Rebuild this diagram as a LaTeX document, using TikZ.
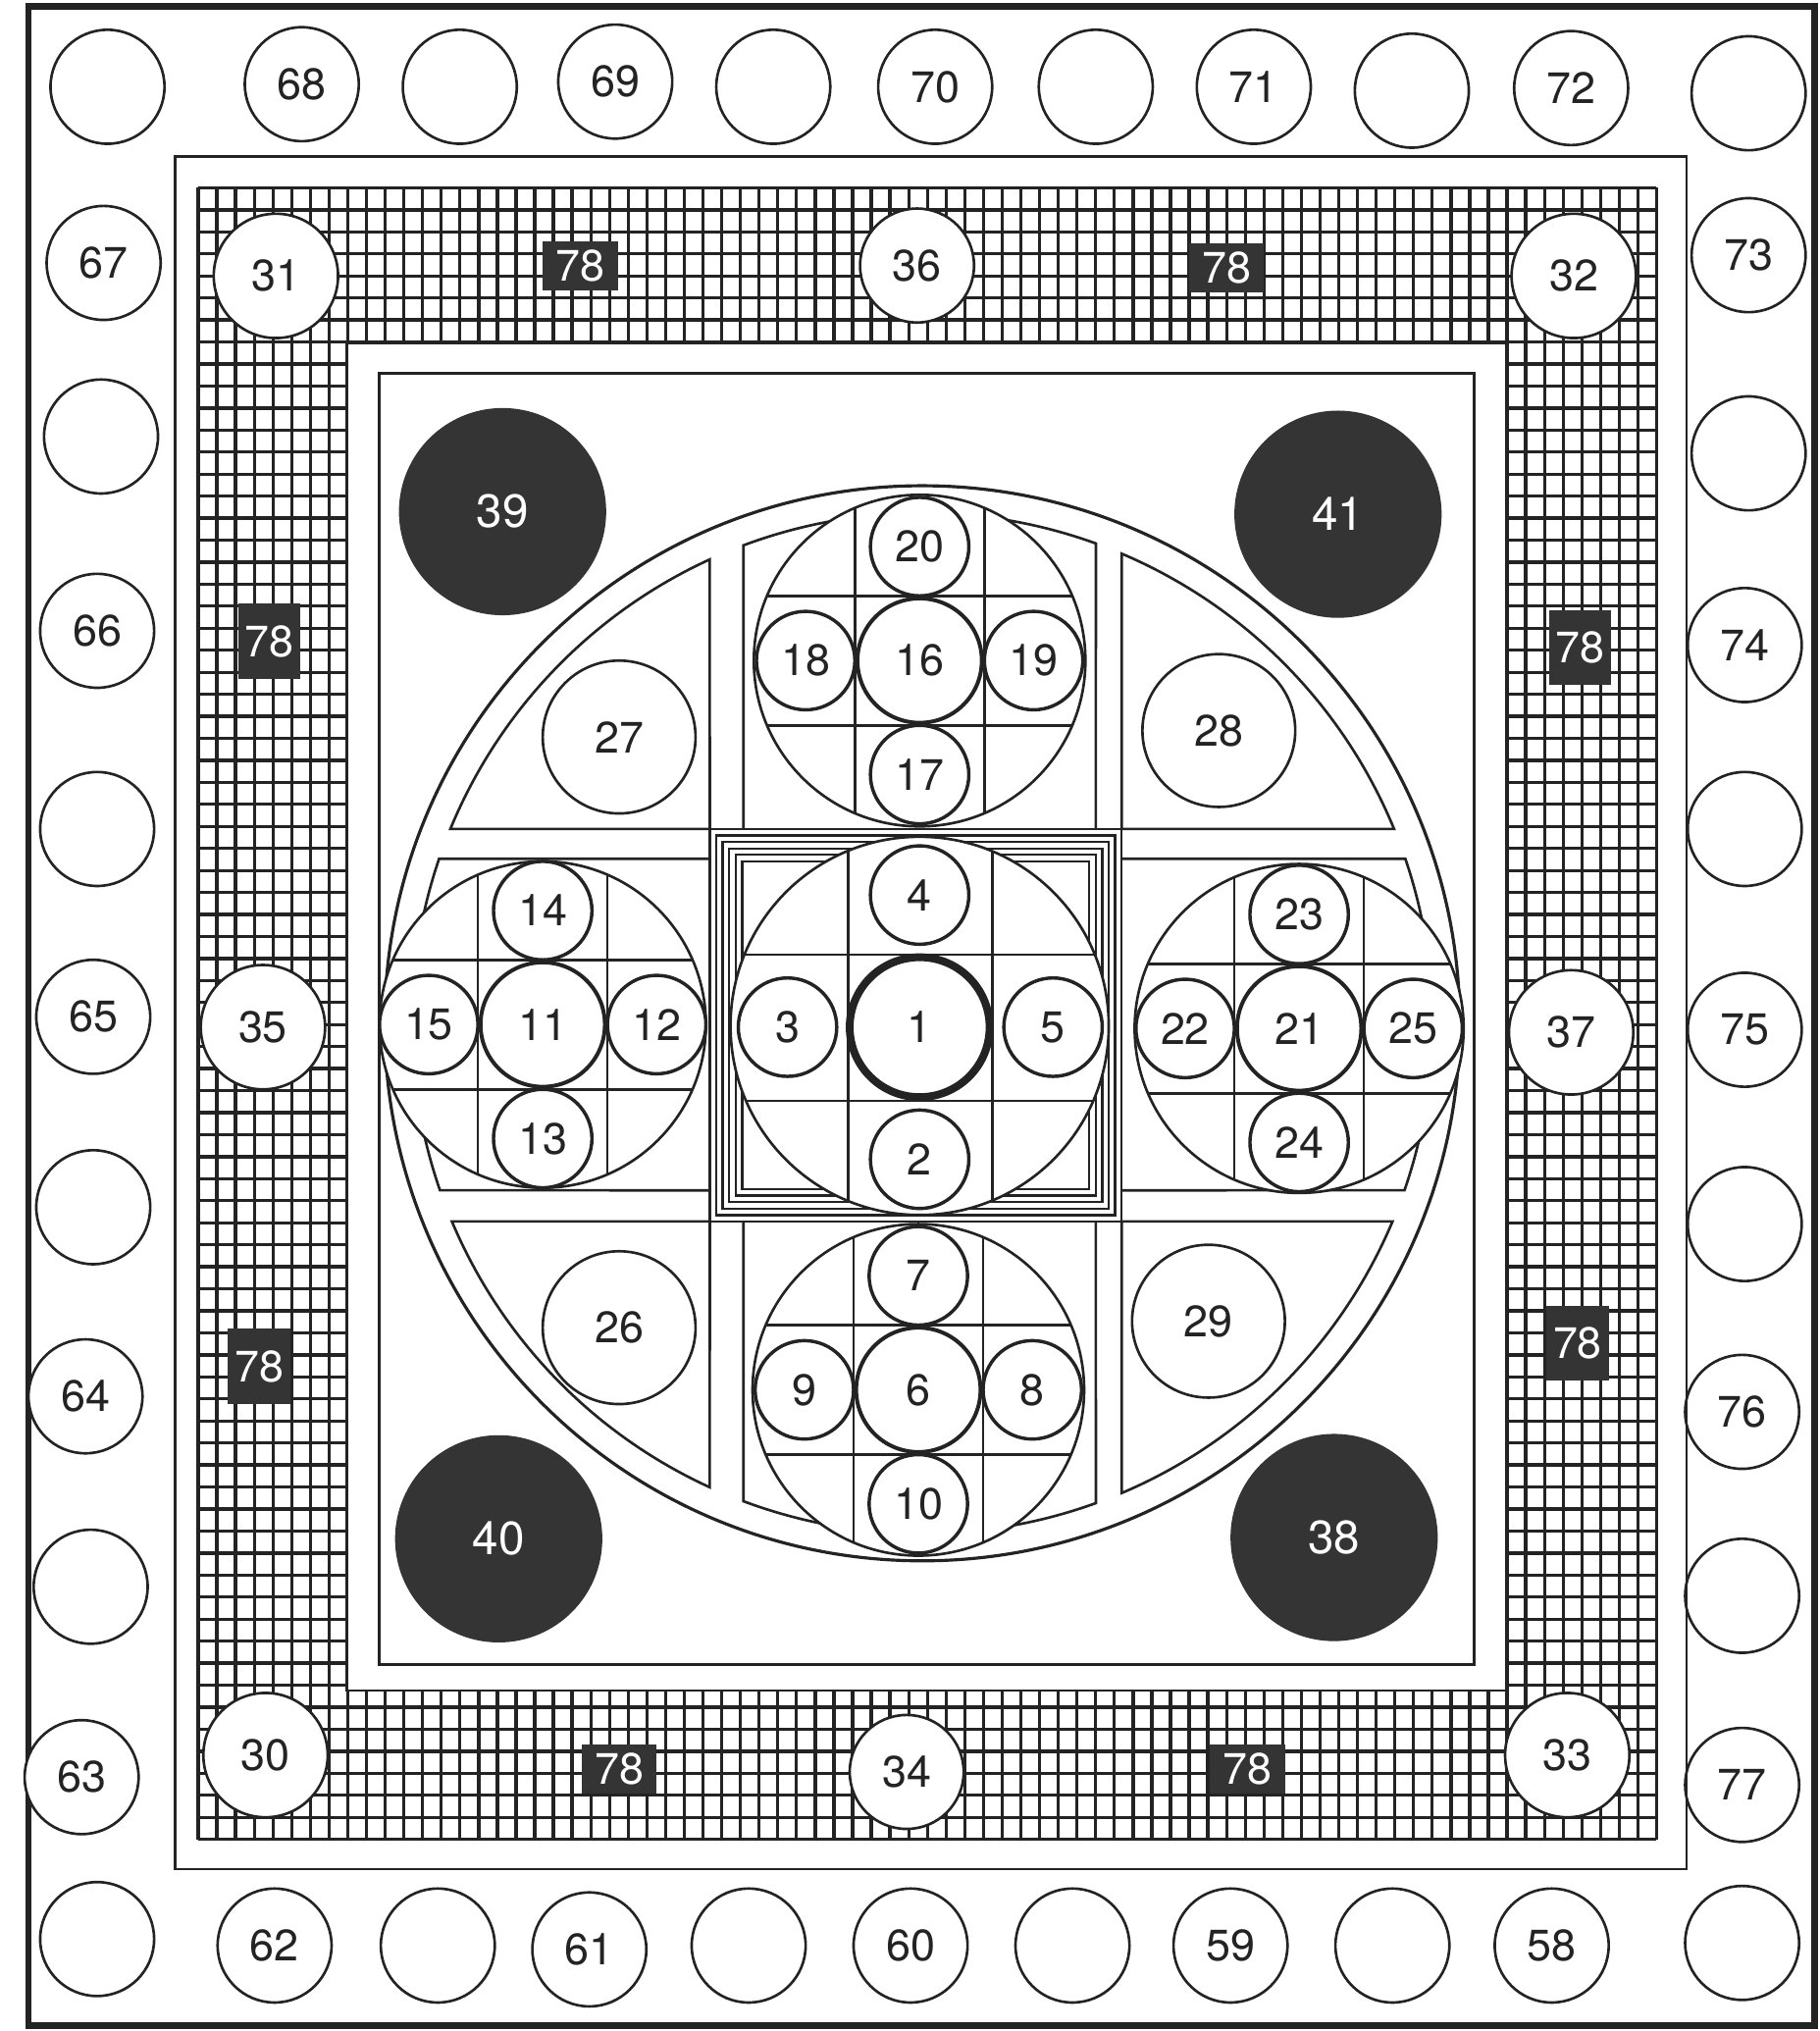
\documentclass[tikz,border=0pt]{standalone}
\usepackage{fontspec}
\setmainfont{TeX Gyre Heros}
\usepackage{tikz}
\usetikzlibrary{positioning}
\definecolor{ink}{RGB}{35,35,35}
\definecolor{shade}{RGB}{52,52,52}

\tikzset{
  wall/.style={draw=ink, line width=2pt},
  mesh/.style={draw=ink, line width=2.5pt},
  ring/.style={circle, draw=ink, fill=white, line width=2pt, minimum size=88pt, inner sep=0pt, text=ink, font=\fontsize{34}{36}\selectfont},
  bead/.style={ring, line width=2.6pt, minimum size=76pt},
  hub/.style={ring, line width=3pt, minimum size=96pt},
  seal/.style={circle, fill=shade, text=white, minimum size=160pt, inner sep=0pt, font=\fontsize{36}{38}\selectfont},
  plaque/.style 2 args={fill=shade, text=white, inner sep=0pt, minimum width=#1, minimum height=#2, font=\fontsize{34}{36}\selectfont},
}

\begin{document}
\begin{tikzpicture}[x=1pt, y=-1pt]
  \useasboundingbox (0,0) rectangle (1405,1568);
  \fill[white] (0,0) rectangle (1405,1568);
  % outer frame with its ring of circles
  \draw[ink, line width=5pt] (22,5) rectangle (1401,1564);
  \foreach \x/\y/\t [count=\i] in {
      83/67/{}, 233/65/68, 355/67/{}, 475/63/69, 597/67/{}, 722/67/70,
      846/67/{}, 968/67/71, 1090/70/{}, 1213/68/72, 1350/72/{},
      1350/197/73, 1350/350/{}, 1347/498/74, 1347/640/{}, 1347/795/75,
      1347/945/{}, 1345/1090/76, 1345/1232/{}, 1345/1378/77, 1345/1500/{},
      1198/1502/58, 1075/1502/{}, 950/1502/59, 828/1502/{}, 703/1502/60,
      578/1502/{}, 455/1505/61, 338/1502/{}, 212/1502/62, 75/1497/{},
      63/1372/63, 70/1225/{}, 66/1078/64, 72/932/{}, 72/785/65,
      75/640/{}, 75/487/66, 78/337/{}, 80/203/67}
    \node[ring] (o\i) at (\x,\y) {\t};

  % chequered band
  \draw[wall] (135,121) rectangle (1302,1443);
  \foreach \i in {0,...,78}
    \draw[mesh] ({153+\i*14.436},145) -- ({153+\i*14.436},1420);
  \foreach \j in {0,...,75}
    \draw[mesh] (153,{145+\j*17}) -- (1279,{145+\j*17});
  \filldraw[wall, fill=white] (268,265) rectangle (1163,1305);
  \draw[wall] (293,288) rectangle (1138,1285);

  \foreach \x/\y/\t/\d in {213/213/31/96, 708/205/36/88, 1215/213/32/96, 1213/797/37/96,
      1210/1355/33/96, 700/1368/34/88, 205/1355/30/96, 203/793/35/96}
    \node[ring, minimum size=\d pt] (b\t) at (\x,\y) {\t};
  \foreach \x/\y/\w/\h [count=\i] in {448/205/58/38, 947/207/58/38, 1220/500/48/58, 1218/1037/48/58,
      963/1366/58/38, 478/1366/58/38, 200/1055/48/58, 208/495/48/58}
    \node[plaque={\w pt}{\h pt}] (p\i) at (\x,\y) {78};

  % dark corner discs
  \node[seal] (s39) at (388,395) {39};
  \node[seal] (s41) at (1033,397) {41};
  \node[seal] (s40) at (385,1188) {40};
  \node[seal] (s38) at (1030,1187) {38};

  % great circle and its quarters
  \coordinate (mc) at (712,790);
  \draw[wall, line width=2.4pt] (mc) circle[radius=415];
  \draw[wall] (548,640) -- (347.7,640) arc[start angle=-157.6, end angle=-114.6, radius=394] -- cycle;
  \draw[wall] (866,640) -- (1076.3,640) arc[start angle=-22.4, end angle=-67.0, radius=394] -- cycle;
  \draw[wall] (548,943) -- (348.9,943) arc[start angle=157.15, end angle=114.6, radius=394] -- cycle;
  \draw[wall] (866,943) -- (1075.1,943) arc[start angle=22.85, end angle=67.0, radius=394] -- cycle;
  \node[ring, minimum size=118pt] (q27) at (478,569) {27};
  \node[ring, minimum size=118pt] (q28) at (941,564) {28};
  \node[ring, minimum size=118pt] (q26) at (478,1025) {26};
  \node[ring, minimum size=118pt] (q29) at (933,1020) {29};

  % arms of the cross
  \draw[wall] (574,640) -- (574,421) arc[start angle=-110.5, end angle=-70.1, radius=394] -- (846,640);
  \draw[wall] (574,943) -- (574,1159) arc[start angle=110.5, end angle=70.1, radius=394] -- (846,943);
  \draw[wall] (548,663) -- (339,663) arc[start angle=198.8, end angle=160.9, radius=394] -- (548,919);
  \draw[wall] (866,663) -- (1085,663) arc[start angle=-18.8, end angle=19.1, radius=394] -- (866,919);

  % central square
  \foreach \k in {0,5,...,25}
    \draw[wall, line width=1.8pt] ({548+\k},{640+\k}) rectangle ({866-\k},{943-\k});
  \filldraw[wall, fill=white] (710,792) circle[radius=146];
  \begin{scope}
    \clip (710,792) circle[radius=146];
    \draw[wall] (655,640) -- (655,943) (766,640) -- (766,943)
                (560,737) -- (860,737) (560,850) -- (860,850);
  \end{scope}
  \node[ring, line width=6pt, minimum size=108pt] (g1) at (710,793) {1};
  \node[bead] (g4) at (710,691) {4};
  \node[bead] (g2) at (710,895) {2};
  \node[bead] (g3) at (608,793) {3};
  \node[bead] (g5) at (813,793) {5};

  % the four outer groups
  \foreach \cx/\cy/\R/\m/\n/\s/\w/\e in {710/510/128/16/20/17/18/19, 709/1073/128/6/7/10/9/8,
      419/791/126/11/14/13/15/12, 1003/794/127/21/23/24/22/25} {
    \filldraw[wall, fill=white] (\cx,\cy) circle[radius=\R];
    \begin{scope}
      \clip (\cx,\cy) circle[radius=\R];
      \draw[wall] ({\cx-50},{\cy-\R}) -- ({\cx-50},{\cy+\R})
                  ({\cx+50},{\cy-\R}) -- ({\cx+50},{\cy+\R})
                  ({\cx-\R},{\cy-50}) -- ({\cx+\R},{\cy-50})
                  ({\cx-\R},{\cy+50}) -- ({\cx+\R},{\cy+50});
    \end{scope}
    \node[hub] (g\m) at (\cx,\cy) {\m};
    \node[bead] (g\n) at (\cx,{\cy-88}) {\n};
    \node[bead] (g\s) at (\cx,{\cy+88}) {\s};
    \node[bead] (g\w) at ({\cx-88},\cy) {\w};
    \node[bead] (g\e) at ({\cx+88},\cy) {\e};
  }
\end{tikzpicture}
\end{document}
